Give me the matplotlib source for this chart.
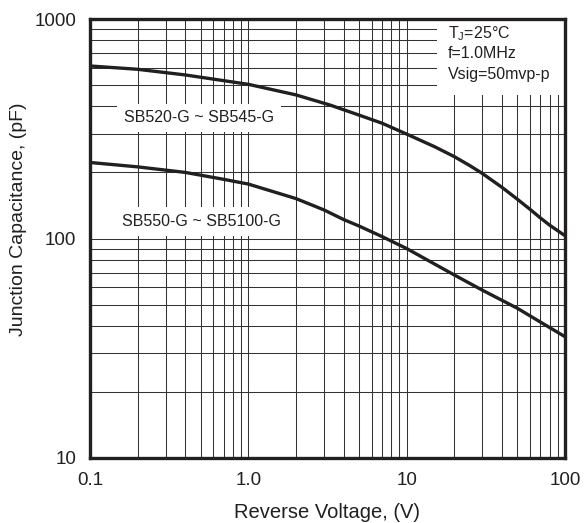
import matplotlib
matplotlib.use("Agg")
import matplotlib.pyplot as plt
from matplotlib.patches import Rectangle
from matplotlib.ticker import FixedLocator, NullFormatter, LogLocator

plt.rcParams['font.family'] = ['Liberation Sans', 'DejaVu Sans']
plt.rcParams['mathtext.fontset'] = 'custom'
plt.rcParams['mathtext.rm'] = 'Liberation Sans'

# Data
volt_a = [0.1, 0.2, 0.4, 1.0, 2.0, 3.3, 5.0, 7.0, 10, 15, 20, 25, 30, 40, 50, 60, 70, 80, 100]
cap_a = [611, 590, 556, 504, 451, 405, 365, 335, 299, 262, 236, 215, 198, 171, 151, 136, 124, 115, 103]

volt_b = [0.1, 0.2, 0.4, 0.7, 1.0, 2.0, 3.0, 4.0, 5.0, 7.0, 10, 20, 30, 50, 72, 100]
cap_b = [222, 212, 200, 186, 177, 152, 135, 122, 114, 102, 90, 68.2, 58.2, 48.1, 41.1, 35.7]

x_ticks = [0.1, 1.0, 10, 100]
x_ticklabels = ["0.1", "1.0", "10", "100"]
y_ticks = [10, 100, 1000]
y_ticklabels = ["10", "100", "1000"]

label_a = "SB520-G ~ SB545-G"
label_b = "SB550-G ~ SB5100-G"
cond_lines = [r"T$_\mathrm{J}$=25°C", "f=1.0MHz", "Vsig=50mvp-p"]

ink = '#231f20'

fig = plt.figure(figsize=(5.84, 5.23), dpi=100)
ax = fig.add_axes([90/584, 1-458/523, 475/584, 439/523])
ax.set_xscale('log')
ax.set_yscale('log')
ax.set_xlim(0.1, 100)
ax.set_ylim(10, 1000)

ax.xaxis.set_major_locator(FixedLocator(x_ticks))
ax.set_xticklabels(x_ticklabels)
ax.yaxis.set_major_locator(FixedLocator(y_ticks))
ax.set_yticklabels(y_ticklabels)
ax.xaxis.set_minor_locator(LogLocator(base=10, subs=range(2, 10)))
ax.yaxis.set_minor_locator(LogLocator(base=10, subs=range(2, 10)))
ax.xaxis.set_minor_formatter(NullFormatter())
ax.yaxis.set_minor_formatter(NullFormatter())
ax.tick_params(which='both', length=0, labelsize=13.5, colors=ink)
ax.tick_params(axis='x', pad=10)
ax.tick_params(axis='y', pad=10)

ax.set_axisbelow(True)
ax.grid(True, which='both', color='#333333', linewidth=0.75)

for s in ax.spines.values():
    s.set_linewidth(2.4)
    s.set_color(ink)

ax.plot(volt_a, cap_a, color=ink, linewidth=2.4, zorder=3, solid_joinstyle='round')
ax.plot(volt_b, cap_b, color=ink, linewidth=2.4, zorder=3, solid_joinstyle='round')

# white box behind the conditions block
ax.add_patch(Rectangle((0.7305, 0.827), 0.2695, 0.173, transform=ax.transAxes,
                       facecolor='white', edgecolor='none', zorder=1))
cond_y = [34, 53, 75]
for txt, yp in zip(cond_lines, cond_y):
    ax.text((448-90)/475, (458-yp)/439, txt, transform=ax.transAxes,
            fontsize=11.5, va='center', ha='left', color=ink, zorder=4)

bbox = dict(facecolor='white', edgecolor='none', pad=5)
ax.text((199-90)/475, (458-118)/439, label_a, transform=ax.transAxes,
        fontsize=11.5, va='center', ha='center', color=ink, bbox=bbox, zorder=4)
ax.text((201-90)/475, (458-221.5)/439, label_b, transform=ax.transAxes,
        fontsize=11.5, va='center', ha='center', color=ink, bbox=bbox, zorder=4)

ax.set_xlabel("Reverse Voltage, (V)", fontsize=14.5, color=ink, va='baseline')
ax.xaxis.set_label_coords(0.5, -(518-458)/439)
ax.set_ylabel("Junction Capacitance, (pF)", fontsize=14, color=ink)
ax.yaxis.set_label_coords((27-90)/475, (458-219)/439)

fig.savefig("out.png", dpi=100)
